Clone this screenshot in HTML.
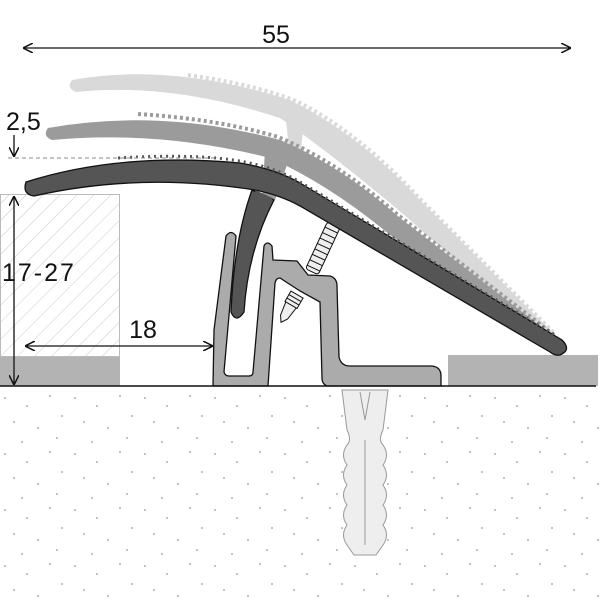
<!DOCTYPE html>
<html><head><style>
html,body{margin:0;padding:0;background:#fff;}
svg{display:block;}
text{font-family:"Liberation Sans",sans-serif;fill:#111;}
</style></head><body>
<svg width="600" height="600" viewBox="0 0 600 600" xmlns="http://www.w3.org/2000/svg">
<defs>
<pattern id="hatch" width="12" height="12" patternUnits="userSpaceOnUse" patternTransform="rotate(45)">
<line x1="0" y1="0" x2="0" y2="12" stroke="#c8c8c8" stroke-width="1"/>
</pattern>
<pattern id="dots" width="70" height="56" patternUnits="userSpaceOnUse">
<circle cx="5" cy="6" r="1" fill="#b0b0b0"/><circle cx="27" cy="14" r="1" fill="#b0b0b0"/>
<circle cx="50" cy="4" r="1" fill="#b0b0b0"/><circle cx="62" cy="24" r="1" fill="#b0b0b0"/>
<circle cx="14" cy="30" r="1" fill="#b0b0b0"/><circle cx="38" cy="36" r="1" fill="#b0b0b0"/>
<circle cx="57" cy="46" r="1" fill="#b0b0b0"/><circle cx="22" cy="50" r="1" fill="#b0b0b0"/>
</pattern>
<marker id="ah" viewBox="0 0 10 10" refX="10" refY="5" markerWidth="10" markerHeight="10" orient="auto-start-reverse" markerUnits="userSpaceOnUse">
<path d="M0,0 L10,5 L0,10" fill="none" stroke="#111" stroke-width="1.5"/>
</marker>
</defs>

<rect x="0" y="390" width="600" height="210" fill="url(#dots)"/>

<rect x="0.5" y="194.5" width="119" height="162" fill="url(#hatch)" stroke="#bbb"/>
<rect x="0" y="357" width="120" height="29" fill="#b3b3b3"/>
<rect x="448" y="355" width="150" height="31" fill="#b3b3b3"/>

<!-- light gray profile -->
<path d="M72,80 Q170,62 290,100 Q360,135 420,200 L555,335 Q560,345 550,345 L410,220 Q340,160 280,118 Q170,82 76,92 Q66,88 72,80 Z" fill="#d9d9d9"/>
<path d="M285,110 L305,112 L300,160 L290,160 Z" fill="#d9d9d9"/>
<path d="M190,78 Q260,88 300,105 Q360,135 420,200 L555,335" fill="none" stroke="#d9d9d9" stroke-width="4" stroke-dasharray="3 3" transform="translate(-2,-3)"/>
<!-- mid gray profile -->
<path d="M48,128 Q160,108 280,140 Q340,165 400,218 L556,338 Q560,348 550,347 L390,235 Q330,185 270,158 Q160,130 52,140 Q42,136 48,128 Z" fill="#9b9b9b"/>
<path d="M265,150 L290,156 L275,200 L262,200 Z" fill="#9b9b9b"/>
<path d="M140,117 Q220,122 280,140 Q340,165 400,218 L556,338" fill="none" stroke="#9b9b9b" stroke-width="4" stroke-dasharray="3 3" transform="translate(-2,-3)"/>

<!-- aluminium base -->
<path d="M213,386 L214,330 L226,236 Q231,229 236,236 L224,372 Q225,376 229,376 L249,376 Q253,376 253,372 L264,246 Q267,240 272,246 L273,260 L297,261 L308,275 L330,276 Q337,278 337,286 L339,357 Q341,366 350,366 L432,366 Q441,367 441,376 L441,386 L327,386 Q322,384 322,378 L320,302 L300,291 L280,278 Q276,278 275,283 L268,386 Z" fill="#ababab" stroke="#111" stroke-width="1.3"/>

<g transform="translate(322,250) rotate(25)">
<rect x="-7" y="-28" width="14" height="52" rx="3" fill="#eee" stroke="#111"/>
<path d="M-7,-22H7M-7,-16H7M-7,-10H7M-7,-4H7M-7,2H7M-7,8H7M-7,14H7M-7,20H7" stroke="#111"/>
</g>
<g transform="translate(291,305) rotate(30)">
<rect x="-7" y="-12" width="14" height="12" fill="#eee" stroke="#111"/>
<path d="M-7,-8H7M-7,-4H7" stroke="#111"/>
<path d="M-6,0 L6,0 L4,14 L0,20 L-4,14 Z" fill="#eee" stroke="#111"/>
</g>

<!-- dark main profile -->
<path d="M26,182 Q120,152 240,163 Q280,170 305,186 L562,340 Q572,350 560,355 Q555,356 550,352 L300,206 Q280,195 255,190 Q140,172 34,196 Q22,194 26,182 Z" fill="#555" stroke="#111" stroke-width="1.3"/>
<path d="M252,190 Q234,240 231,312 Q236,324 244,312 Q248,250 274,200 Z" fill="#555" stroke="#111" stroke-width="1.3"/>
<path d="M255,192 L272,200" stroke="#555" stroke-width="4"/>
<path d="M118,159 Q200,154 245,163 Q280,170 305,186 L555,336" fill="none" stroke="#555" stroke-width="3" stroke-dasharray="2 4" transform="translate(0,-1)"/>

<!-- anchor -->
<path d="M342,390 L388,390 L383,430 Q378,440 383,445 Q390,455 383,465 Q390,475 383,485 Q390,495 383,505 Q390,515 383,525 Q390,535 383,545 L376,555 L354,555 L347,545 Q340,535 347,525 Q340,515 347,505 Q340,495 347,485 Q340,475 347,465 Q340,455 347,445 Q352,440 347,430 Z" fill="#eee" stroke="#999"/>
<path d="M360,392 L365,420 L370,392 M365,440 V545" fill="none" stroke="#999"/>

<line x1="0" y1="386" x2="596" y2="386" stroke="#111" stroke-width="1.5"/>

<line x1="23" y1="48" x2="571" y2="48" stroke="#111" stroke-width="1.3" marker-start="url(#ah)" marker-end="url(#ah)"/>
<text x="276" y="43" font-size="25" text-anchor="middle">55</text>

<text x="6" y="130" font-size="25">2,5</text>
<line x1="14" y1="135" x2="14" y2="157" stroke="#111" stroke-width="1.3" marker-end="url(#ah)"/>
<line x1="8" y1="158" x2="215" y2="158" stroke="#888" stroke-width="1" stroke-dasharray="4 3"/>

<line x1="14" y1="196" x2="14" y2="385" stroke="#111" stroke-width="1.3" marker-start="url(#ah)" marker-end="url(#ah)"/>
<text x="2" y="281" font-size="25" letter-spacing="2">17-27</text>

<line x1="25" y1="346" x2="213" y2="346" stroke="#111" stroke-width="1.3" marker-start="url(#ah)" marker-end="url(#ah)"/>
<text x="143" y="338" font-size="25" text-anchor="middle">18</text>
</svg>
</body></html>
